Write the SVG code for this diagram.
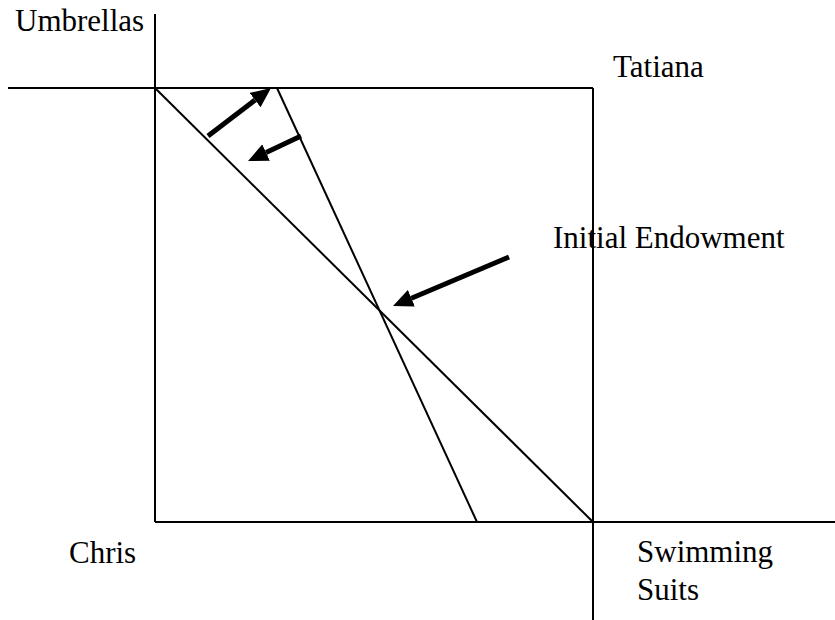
<svg xmlns="http://www.w3.org/2000/svg" width="835" height="620" viewBox="0 0 835 620">
<style>
.ax{stroke:#000;stroke-width:2;fill:none}
.arr{stroke:#000;stroke-width:5;fill:none;marker-end:url(#ah)}
.t{font-family:"Liberation Serif","Times New Roman",serif;font-size:31px;fill:#000}
</style>
<defs>
<marker id="ah" markerUnits="userSpaceOnUse" markerWidth="20" markerHeight="18" refX="0" refY="9" orient="auto" viewBox="0 0 20 18">
<path d="M0,0 L20,9 L0,18 z" fill="#000"/>
</marker>
</defs>
<rect width="835" height="620" fill="#fff"/>
<g id="axes">
<line class="ax" x1="155" y1="14" x2="155" y2="522"/>
<line class="ax" x1="8" y1="88" x2="593" y2="88"/>
<line class="ax" x1="593" y1="88" x2="593" y2="620"/>
<line class="ax" x1="155" y1="522" x2="835" y2="522"/>
</g>
<g id="budget-lines">
<line class="ax" x1="155" y1="88" x2="593" y2="522"/>
<line class="ax" x1="277" y1="88" x2="477" y2="522"/>
</g>
<g id="arrows">
<line class="arr" x1="208" y1="136" x2="255.1" y2="100.1"/>
<line class="arr" x1="301" y1="136" x2="266.1" y2="152.5"/>
<line class="arr" x1="509" y1="257" x2="411.4" y2="298.2"/>
</g>
<g id="labels">
<text class="t" x="15" y="31">Umbrellas</text>
<text class="t" x="613" y="77">Tatiana</text>
<text class="t" x="553" y="248">Initial Endowment</text>
<text class="t" x="69" y="563">Chris</text>
<text class="t" x="637" y="562">Swimming</text>
<text class="t" x="637" y="600">Suits</text>
</g>
</svg>
